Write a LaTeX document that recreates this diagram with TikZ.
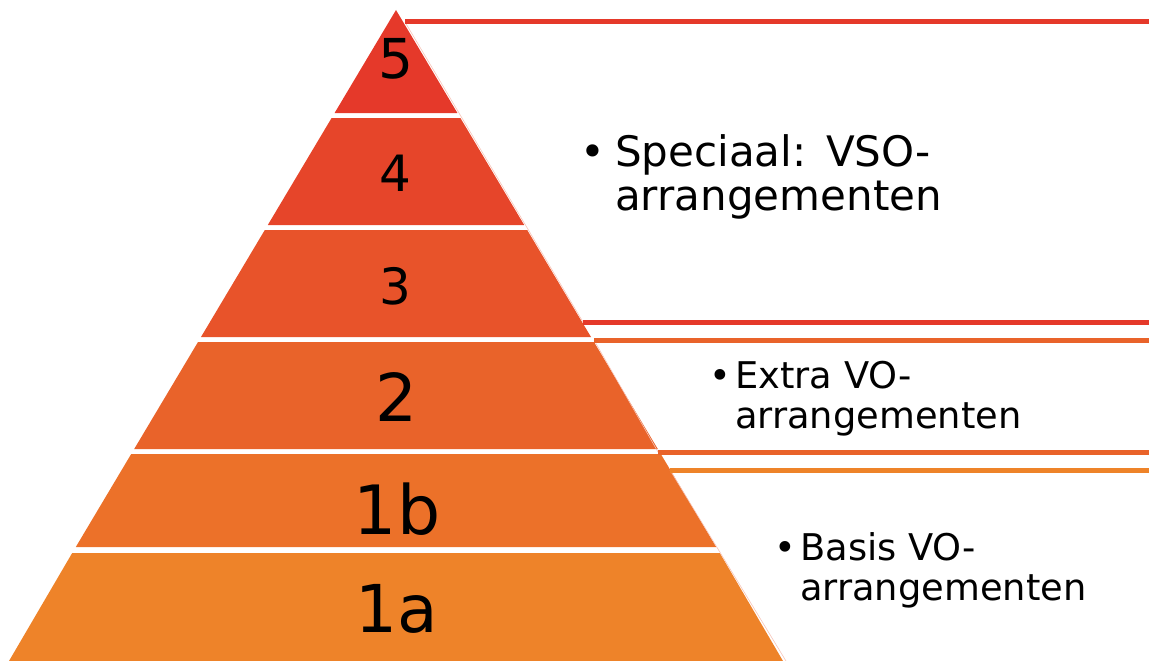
\documentclass[tikz,border=0pt]{standalone}
\usepackage{fontspec}
\setmainfont{DejaVu Sans}
\definecolor{cFive}{HTML}{E5392A}
\definecolor{cFour}{HTML}{E6452A}
\definecolor{cThree}{HTML}{E8532A}
\definecolor{cTwo}{HTML}{E9632A}
\definecolor{cOneB}{HTML}{EC7129}
\definecolor{cOneA}{HTML}{EE8329}
\definecolor{paleEdge}{HTML}{F6C4B8}
\tikzset{
  layer/.style={draw=none},
  num/.style={inner sep=0pt, anchor=base, text=black},
  bracket/.style={line width=5pt},
  edge/.style={line width=0.6pt, draw=paleEdge},
  lbl/.style={inner sep=0pt, anchor=base west, text=black},
}
\begin{document}
\begin{tikzpicture}[x=1pt,y=-1pt]
\useasboundingbox (0,0) rectangle (1149,661);
% pyramid layers
\fill[cFive]  (396,10) -- (457.4,113) -- (334.6,113) -- cycle;
\fill[cFour]  (331.6,118) -- (460.4,118) -- (524.2,225) -- (267.8,225) -- cycle;
\fill[cThree] (264.8,230) -- (527.2,230) -- (591.0,337) -- (201.0,337) -- cycle;
\fill[cTwo]   (198.0,342) -- (594.0,342) -- (657.8,449) -- (134.2,449) -- cycle;
\fill[cOneB]  (131.2,454) -- (660.8,454) -- (716.2,547) -- (75.8,547) -- cycle;
\fill[cOneA]  (72.2,553) -- (719.8,553) -- (783,661) -- (9,661) -- cycle;
% numbers
\node[num, font=\fontsize{55}{60}\selectfont] (n5) at (396,78) {5};
\node[num, font=\fontsize{50}{55}\selectfont] (n4) at (395,191) {4};
\node[num, font=\fontsize{50}{55}\selectfont] (n3) at (395,304) {3};
\node[num, font=\fontsize{66}{70}\selectfont] (n2) at (396,421) {2};
\node[num, font=\fontsize{68}{72}\selectfont] (n1b) at (397,534) {1b};
\node[num, font=\fontsize{66}{70}\selectfont] (n1a) at (397,632) {1a};
% bracket coordinates
\coordinate (t1) at (405,22);
\coordinate (t1e) at (1149,22);
\coordinate (t2) at (583,322);
\coordinate (t2e) at (1149,322);
\coordinate (m1) at (594,340);
\coordinate (m1e) at (1149,340);
\coordinate (m2) at (658,452);
\coordinate (m2e) at (1149,452);
\coordinate (b1) at (670,470);
\coordinate (b1e) at (1149,470);
\coordinate (b2) at (786,661);
% pale slanted edges
\draw[edge] (t1) -- (t2);
\draw[edge] (m1) -- (m2);
\draw[edge] (b1) -- (b2);
% bracket lines
\draw[bracket, draw=cFive] (t1) -- (t1e);
\draw[bracket, draw=cFive] (t2) -- (t2e);
\draw[bracket, draw=cTwo] (m1) -- (m1e);
\draw[bracket, draw=cTwo] (m2) -- (m2e);
\draw[bracket, draw=cOneA] (b1) -- (b1e);
% texts
\node[lbl, font=\fontsize{42}{44}\selectfont] (sb) at (580,166) {•};
\node[lbl, font=\fontsize{42}{44}\selectfont] (s1) at (615,166) {Speciaal:\hspace{2pt} VSO-};
\node[lbl, font=\fontsize{42}{44}\selectfont] (s2) at (615,210) {arrangementen};
\node[lbl, font=\fontsize{36.8}{40}\selectfont] (eb) at (709,388) {•};
\node[lbl, font=\fontsize{36.8}{40}\selectfont] (e1) at (735,388) {Extra VO-};
\node[lbl, font=\fontsize{36.8}{40}\selectfont] (e2) at (735,428) {arrangementen};
\node[lbl, font=\fontsize{36.8}{40}\selectfont] (bb) at (774,560) {•};
\node[lbl, font=\fontsize{36.8}{40}\selectfont] (b1t) at (800,560) {Basis VO-};
\node[lbl, font=\fontsize{36.8}{40}\selectfont] (b2t) at (800,600) {arrangementen};
\end{tikzpicture}
\end{document}
